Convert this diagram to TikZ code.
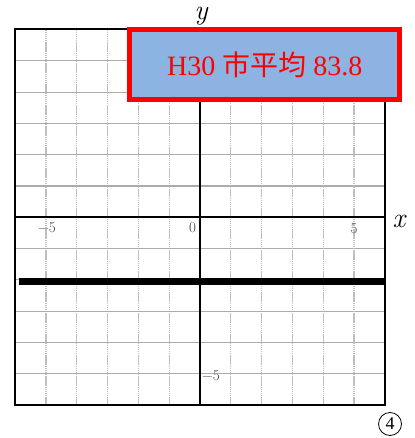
\documentclass[tikz,border=0pt]{standalone}
\usepackage{fontspec}
\setmainfont{Liberation Serif}
\newfontfamily\cjk{Noto Sans CJK JP}
\newfontfamily\lmr{Latin Modern Roman}
\definecolor{boxblue}{HTML}{8DB3E2}
\begin{document}
\begin{tikzpicture}[x=1pt,y=-1pt,
  vgridline/.style={gray!50, line width=1.1pt, dash pattern=on 1.5pt off 0.6pt},
  hgridline/.style={gray!65, line width=1.1pt},
  axisline/.style={black, line width=1.8pt},
  frameline/.style={black, line width=2pt},
  ticklabel/.style={text=black!75, font=\lmr\fontsize{15}{15}\selectfont, inner sep=0pt},
  axislabel/.style={font=\lmr\itshape\fontsize{28}{28}\selectfont, inner sep=0pt, anchor=base},
  avgbox/.style={draw=red, fill=boxblue, line width=5pt, minimum width=270, minimum height=69.4, text=red, font=\fontsize{28}{28}\selectfont, inner sep=0pt},
  numcircle/.style={draw, circle, line width=0.8pt, minimum size=23, inner sep=0pt, font=\fontsize{18}{18}\selectfont}]
\useasboundingbox (0,0) rectangle (414,438);
% grid
\foreach \k in {-6,...,6} {
  \draw[vgridline] ({200+30.8*\k},29.5) -- ({200+30.8*\k},405.1);
  \draw[hgridline] (15.2,{217.3+31.3*\k}) -- (384.8,{217.3+31.3*\k});
}
% frame and axes
\draw[frameline] (15.2,29.5) rectangle (384.8,405.1);
\coordinate (xl) at (15.2,217.3);
\coordinate (xr) at (384.8,217.3);
\coordinate (yt) at (200,29.5);
\coordinate (yb) at (200,405.1);
\draw[axisline] (xl) -- (xr);
\draw[axisline] (yt) -- (yb);
% tick labels
\node[ticklabel] (tm5) at (47,228) {−5};
\node[ticklabel] (t0) at (192.5,228) {0};
\node[ticklabel] (t5) at (354,229) {5};
\node[ticklabel] (tym5) at (211,376) {−5};
% axis labels
\node[axislabel] (ylab) at (201,20) {y};
\node[axislabel] (xlab) at (399,227.5) {x};
% thick line y = -2
\coordinate (L1) at (18.7,281.5);
\coordinate (L2) at (384.8,281.5);
\draw[line width=7.5pt] (L1) -- (L2);
% average box
\node[avgbox] (avg) at (264.8,64.5) {H30 {\cjk 市平均} 83.8};
% circled number
\node[numcircle] (num) at (390,424) {4};
\end{tikzpicture}
\end{document}
